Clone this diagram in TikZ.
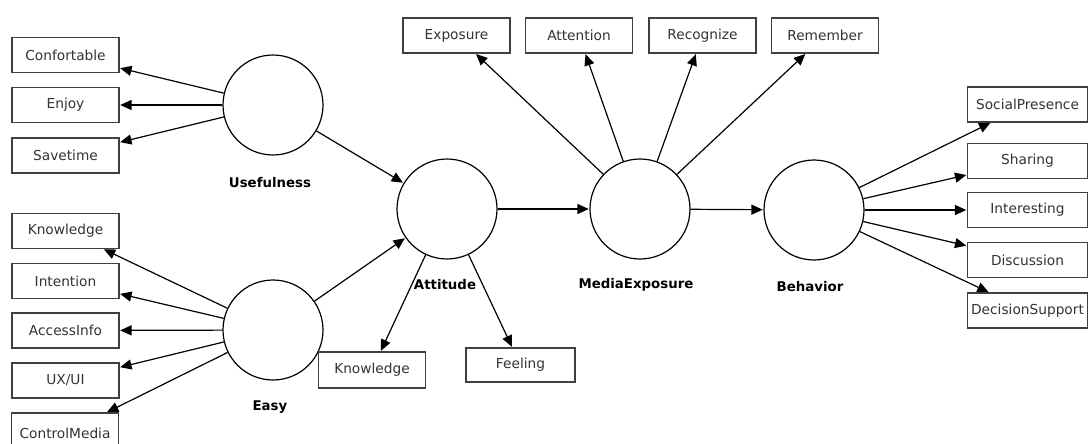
\documentclass[tikz,border=0pt]{standalone}
\usepackage{fontspec}
\setmainfont{DejaVu Sans}
\usetikzlibrary{arrows.meta}

\tikzset{every picture/.style={line width=0.9pt}}
\tikzset{
  indicator/.style={draw=black!75, line width=0.8pt, fill=white, minimum width=80.25pt, minimum height=26.25pt, inner sep=1pt, text=black!80, font=\fontsize{10.3}{12}\selectfont},
  latent/.style={draw, circle, minimum size=75pt, inner sep=0pt},
  latentname/.style={font=\fontsize{10}{12}\selectfont\bfseries, inner sep=0.75pt},
  path/.style={-{Triangle[length=8.5pt,width=7.5pt]}, shorten >=0.5pt}
}

\begin{document}
\begin{tikzpicture}[x=0.75pt,y=0.75pt,yscale=-1,xscale=1]
\useasboundingbox (0,0) rectangle (1091,443);

% Latent variables
\node [latent] (use) at (273,105) {};
\node [latent] (easy) at (273,330) {};
\node [latent] (att) at (447,209) {};
\node [latent] (mex) at (640,209) {};
\node [latent] (beh) at (814,210) {};

% Latent names
\node [latentname] (usename) at (270,183) {Usefulness};
\node [latentname] (easyname) at (270,407) {Easy};
\node [latentname] (attname) at (445,285) {Attitude};
\node [latentname] (mexname) at (636,285) {MediaExposure};
\node [latentname] (behname) at (810,287) {Behavior};

% Usefulness indicators
\node [indicator] (conf) at (65.5,55) {Confortable};
\node [indicator] (enj) at (65.5,105) {Enjoy};
\node [indicator] (save) at (65.5,155.5) {Savetime};

% Easy indicators
\node [indicator] (know) at (65.5,231) {Knowledge};
\node [indicator] (inten) at (65.5,281) {Intention};
\node [indicator] (acc) at (65.5,330.5) {AccessInfo};
\node [indicator] (ux) at (65.5,380.5) {UX/UI};
\node [indicator, minimum height=30pt] (ctrl) at (65,433) {ControlMedia};

% Attitude indicators
\node [indicator, minimum height=27pt] (attknow) at (372,370) {Knowledge};
\node [indicator, minimum width=81.75pt, minimum height=25.5pt] (feel) at (520.5,365) {Feeling};

% MediaExposure indicators
\node [indicator] (expo) at (456.5,35.5) {Exposure};
\node [indicator] (atten) at (579,35.5) {Attention};
\node [indicator] (recog) at (702.5,35.5) {Recognize};
\node [indicator] (remem) at (825,35.5) {Remember};

% Behavior indicators
\node [indicator, minimum width=90pt] (soc) at (1027.5,104.5) {SocialPresence};
\node [indicator, minimum width=90pt] (shar) at (1027.5,161) {Sharing};
\node [indicator, minimum width=90pt] (inter) at (1027.5,210) {Interesting};
\node [indicator, minimum width=90pt] (disc) at (1027.5,260) {Discussion};
\node [indicator, minimum width=90pt] (dec) at (1027.5,310.5) {DecisionSupport};

% Structural paths
\draw [path] (use) -- (att);
\draw [path] (easy) -- (att);
\draw [path] (att) -- (mex);
\draw [path] (mex) -- (beh);

% Measurement paths
\draw [path] (use) -- (conf);
\draw [path] (use) -- (enj);
\draw [path] (use) -- (save);
\draw [path] (easy) -- (know);
\draw [path] (easy) -- (inten);
\draw [path] (easy) -- (acc);
\draw [path] (easy) -- (ux);
\draw [path] (easy) -- (ctrl);
\draw [path] (att) -- (attknow);
\draw [path] (att) -- (feel);
\draw [path] (mex) -- (expo);
\draw [path] (mex) -- (atten);
\draw [path] (mex) -- (recog);
\draw [path] (mex) -- (remem);
\draw [path] (beh) -- (soc);
\draw [path] (beh) -- (shar);
\draw [path] (beh) -- (inter);
\draw [path] (beh) -- (disc);
\draw [path] (beh) -- (dec);

\end{tikzpicture}
\end{document}
